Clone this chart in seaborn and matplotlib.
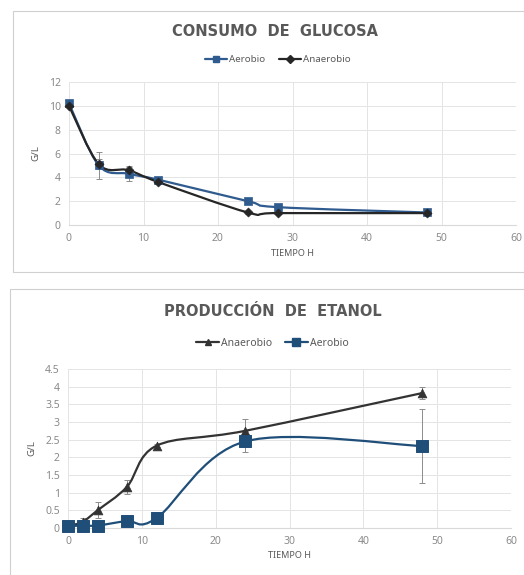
import numpy as np
import seaborn as sns
import matplotlib.pyplot as plt
from matplotlib.path import Path
from matplotlib.patches import PathPatch, Rectangle
from matplotlib.lines import Line2D

# consumo de glucosa
t_glu = [0, 4, 8, 12, 24, 28, 48]
glu_aer = [10.2, 5.0, 4.3, 3.8, 2.0, 1.5, 1.05]
glu_aer_err = [0.3, 1.1, 0.6, 0.15, 0.1, 0.1, 0.1]
glu_ana = [10.0, 5.1, 4.6, 3.6, 1.05, 1.0, 1.0]
glu_ana_err = [0.2, 0.4, 0.35, 0.15, 0.1, 0.05, 0.05]

# produccion de etanol
t_eta = [0, 2, 4, 8, 12, 24, 48]
eta_ana = [0.05, 0.18, 0.5, 1.17, 2.33, 2.75, 3.82]
eta_ana_err = [0.02, 0.1, 0.23, 0.2, 0.05, 0.33, 0.18]
eta_aer = [0.05, 0.07, 0.07, 0.2, 0.28, 2.45, 2.32]
eta_aer_err = [0.02, 0.02, 0.02, 0.03, 0.03, 0.3, 1.05]

BLUE = '#2F5B8F'
DARK = '#262626'
GRAY = '#595959'

sns.set_theme(style="whitegrid")
plt.rcParams['font.family'] = ['Noto Sans', 'DejaVu Sans']


def smooth_line(ax, x, y, color):
    # curva suavizada tipo Excel (bezier cubica)
    x = np.asarray(x, float)
    y = np.asarray(y, float)
    pts = np.column_stack([x, y])
    n = len(pts)
    verts = [pts[0]]
    codes = [Path.MOVETO]
    for i in range(n - 1):
        p0 = pts[max(i - 1, 0)]
        p1 = pts[i]
        p2 = pts[i + 1]
        p3 = pts[min(i + 2, n - 1)]
        c1 = p1 + (p2 - p0) / 6
        c2 = p2 - (p3 - p1) / 6
        verts += [c1, c2, p2]
        codes += [Path.CURVE4] * 3
    ax.add_patch(PathPatch(Path(verts, codes), fill=False, edgecolor=color,
                           lw=1.6, zorder=3))


def style_axes(ax, ymax, ystep):
    ax.set_xlim(0, 60)
    ax.set_ylim(0, ymax)
    ax.set_xticks(range(0, 61, 10))
    ax.set_yticks(np.arange(0, ymax + 0.001, ystep))
    ax.set_facecolor('white')
    for s in ['top', 'right', 'left']:
        ax.spines[s].set_visible(False)
    ax.spines['bottom'].set_color('#d9d9d9')
    ax.spines['bottom'].set_linewidth(0.8)
    ax.grid(True, color='#e4e4e4', lw=0.7)
    ax.tick_params(axis='both', length=0, labelsize=7.5, colors='#8a8a8a', pad=6)
    ax.set_xlabel('TIEMPO H', fontsize=6.5, color=GRAY, labelpad=3)
    ax.set_ylabel('G/L', fontsize=7, color=GRAY, labelpad=6)


fig = plt.figure(figsize=(5.24, 5.75), dpi=100)
fig.patch.set_facecolor('white')
fig.patches.append(Rectangle((13 / 524, 1 - 272 / 575), 1, 261 / 575,
                             transform=fig.transFigure, fill=False,
                             edgecolor='#d0d0d0', lw=0.8))
fig.patches.append(Rectangle((10 / 524, -0.01), 1, 1 - 289 / 575 + 0.01,
                             transform=fig.transFigure, fill=False,
                             edgecolor='#d0d0d0', lw=0.8))

# ---- glucosa ----
ax1 = fig.add_axes([69 / 524, 1 - 225 / 575, 447 / 524, 143 / 575])
style_axes(ax1, 12, 2)
ax1.errorbar(t_glu, glu_aer, yerr=glu_aer_err, fmt='none', ecolor='#8c8c8c',
             elinewidth=0.7, capsize=2.5, capthick=0.7, zorder=2)
ax1.errorbar(t_glu, glu_ana, yerr=glu_ana_err, fmt='none', ecolor='#8c8c8c',
             elinewidth=0.7, capsize=2.5, capthick=0.7, zorder=2)
smooth_line(ax1, t_glu, glu_aer, BLUE)
smooth_line(ax1, t_glu, glu_ana, DARK)
sns.scatterplot(x=t_glu, y=glu_aer, ax=ax1, marker='s', s=38, color=BLUE,
                edgecolor=BLUE, zorder=4, clip_on=False)
sns.scatterplot(x=t_glu, y=glu_ana, ax=ax1, marker='D', s=22, color=DARK,
                edgecolor=DARK, zorder=5, clip_on=False)
fig.text(0.525, 1 - 32 / 575, 'CONSUMO  DE  GLUCOSA', ha='center', va='center',
         fontsize=10.5, fontweight='bold', color=GRAY, family='DejaVu Sans')
h1 = [Line2D([], [], color=BLUE, lw=1.6, marker='s', ms=5),
      Line2D([], [], color=DARK, lw=1.6, marker='D', ms=4)]
fig.legend(h1, ['Aerobio', 'Anaerobio'], loc='center', ncol=2,
           bbox_to_anchor=(0.53, 1 - 60 / 575), frameon=False, fontsize=7,
           handlelength=2.2, handletextpad=0.2, columnspacing=1.5,
           labelcolor=GRAY)

# ---- etanol ----
ax2 = fig.add_axes([68 / 524, 1 - 528 / 575, 443 / 524, 159 / 575])
style_axes(ax2, 4.5, 0.5)
ax2.set_yticklabels(['0', '0.5', '1', '1.5', '2', '2.5', '3', '3.5', '4', '4.5'])
ax2.errorbar(t_eta, eta_ana, yerr=eta_ana_err, fmt='none', ecolor='#8c8c8c',
             elinewidth=0.7, capsize=2.5, capthick=0.7, zorder=2)
ax2.errorbar(t_eta, eta_aer, yerr=eta_aer_err, fmt='none', ecolor='#8c8c8c',
             elinewidth=0.7, capsize=2.5, capthick=0.7, zorder=2)
smooth_line(ax2, t_eta, eta_ana, '#333333')
smooth_line(ax2, t_eta, eta_aer, '#1F4E79')
sns.scatterplot(x=t_eta, y=eta_ana, ax=ax2, marker='^', s=40, color='#333333',
                edgecolor='#333333', zorder=4, clip_on=False)
sns.scatterplot(x=t_eta, y=eta_aer, ax=ax2, marker='s', s=75, color='#1F4E79',
                edgecolor='#1F4E79', zorder=5, clip_on=False)
fig.text(0.52, 1 - 312 / 575, 'PRODUCCIÓN  DE  ETANOL', ha='center', va='center',
         fontsize=10.5, fontweight='bold', color=GRAY, family='DejaVu Sans')
h2 = [Line2D([], [], color='#333333', lw=1.6, marker='^', ms=5),
      Line2D([], [], color='#1F4E79', lw=1.6, marker='s', ms=6)]
fig.legend(h2, ['Anaerobio', 'Aerobio'], loc='center', ncol=2,
           bbox_to_anchor=(0.52, 1 - 343 / 575), frameon=False, fontsize=7.5,
           handlelength=2.2, handletextpad=0.2, columnspacing=1.2,
           labelcolor=GRAY)

fig.savefig('out.png', dpi=100, facecolor='white')
